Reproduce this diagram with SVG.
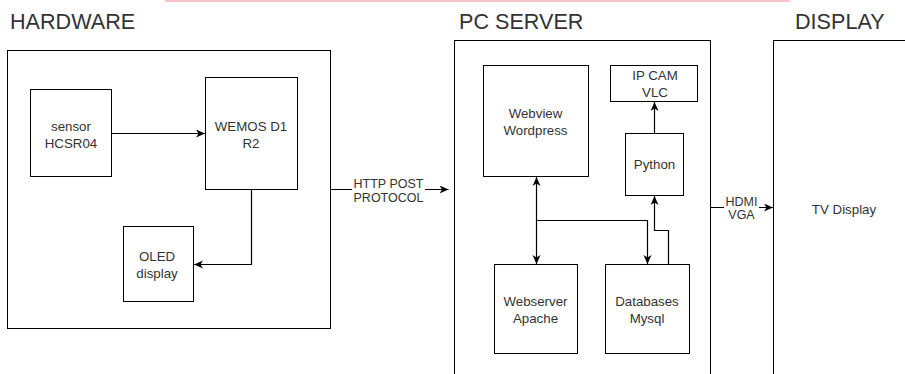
<svg xmlns="http://www.w3.org/2000/svg" width="905" height="374" viewBox="0 0 905 374">
<style>
.box{fill:#fff;stroke:#000;stroke-width:1}
.t{font-family:"Liberation Sans",Arial,sans-serif;font-size:13.3px;fill:#333;text-anchor:middle}
.title{font-family:"Liberation Sans",Arial,sans-serif;font-size:21.6px;fill:#333}
.lbl{font-family:"Liberation Sans",Arial,sans-serif;font-size:12.5px;fill:#333;text-anchor:middle}
.c{fill:none;stroke:#000;stroke-width:1.2}
</style>
<defs>
<marker id="ah" markerUnits="userSpaceOnUse" markerWidth="10" markerHeight="9" refX="9" refY="4" orient="auto">
<path d="M0,0 L9,4 L0,8 L2.5,4 z" fill="#000"/>
</marker>
<marker id="as" markerUnits="userSpaceOnUse" markerWidth="10" markerHeight="9" refX="0" refY="4" orient="auto">
<path d="M9,0 L0,4 L9,8 L6.5,4 z" fill="#000"/>
</marker>
</defs>
<rect width="905" height="374" fill="#fff"/>
<rect x="165" y="0" width="625" height="2" fill="#fbc3ca"/>

<g id="hardware">
<rect class="box" x="7.5" y="50.5" width="323" height="278"/>
<text class="title" x="10" y="29">HARDWARE</text>
</g>
<g id="pcserver">
<rect class="box" x="454.5" y="40.5" width="256" height="345"/>
<text class="title" x="459" y="29">PC SERVER</text>
</g>
<g id="display">
<rect class="box" x="773.5" y="40.5" width="200" height="345"/>
<text class="title" x="795" y="29">DISPLAY</text>
<text class="t" x="844" y="214">TV Display</text>
</g>

<g id="sensor">
<rect class="box" x="30.5" y="89.5" width="81" height="87"/>
<text class="t" x="71" y="130.5">sensor</text>
<text class="t" x="71" y="148">HCSR04</text>
</g>
<g id="wemos">
<rect class="box" x="205.5" y="77.5" width="92" height="112"/>
<text class="t" x="251" y="130.5">WEMOS D1</text>
<text class="t" x="251" y="148">R2</text>
</g>
<g id="oled">
<rect class="box" x="123.5" y="226.5" width="70" height="75"/>
<text class="t" x="157" y="261">OLED</text>
<text class="t" x="157" y="277.5">display</text>
</g>
<g id="webview">
<rect class="box" x="483.5" y="65.5" width="105" height="111"/>
<text class="t" x="535.5" y="118">Webview</text>
<text class="t" x="535.5" y="135">Wordpress</text>
</g>
<g id="ipcam">
<rect class="box" x="610.5" y="65.5" width="87" height="36"/>
<text class="t" x="655" y="80">IP CAM</text>
<text class="t" x="655" y="97">VLC</text>
</g>
<g id="python">
<rect class="box" x="625.5" y="133.5" width="58" height="62"/>
<text class="t" x="654.5" y="169">Python</text>
</g>
<g id="webserver">
<rect class="box" x="494.5" y="264.5" width="83" height="89"/>
<text class="t" x="535.5" y="306">Webserver</text>
<text class="t" x="535.5" y="323">Apache</text>
</g>
<g id="databases">
<rect class="box" x="605.5" y="264.5" width="84" height="89"/>
<text class="t" x="647" y="306">Databases</text>
<text class="t" x="647" y="323">Mysql</text>
</g>

<g id="connectors">
<path class="c" d="M111.5 133.5 H205" marker-end="url(#ah)"/>
<path class="c" d="M251.5 189.5 V264.5 H194" marker-end="url(#ah)"/>
<path class="c" d="M330.5 189.5 H448.5" marker-end="url(#ah)"/>
<rect x="352" y="177" width="73" height="27" fill="#fff"/>
<text class="lbl" x="388.5" y="188">HTTP POST</text>
<text class="lbl" x="388.5" y="202">PROTOCOL</text>
<path class="c" d="M654.5 133.5 V102" marker-end="url(#ah)"/>
<path class="c" d="M536.5 177 V264" marker-start="url(#as)" marker-end="url(#ah)"/>
<path class="c" d="M536.5 220.5 H647.5 V264" marker-end="url(#ah)"/>
<path class="c" d="M668.5 264.5 V230.5 H654.5 V196" marker-end="url(#ah)"/>
<path class="c" d="M710.5 207.5 H773" marker-end="url(#ah)"/>
<rect x="724" y="196" width="35" height="25" fill="#fff"/>
<text class="lbl" x="741.5" y="205.5">HDMI</text>
<text class="lbl" x="741.5" y="219">VGA</text>
</g>
</svg>
